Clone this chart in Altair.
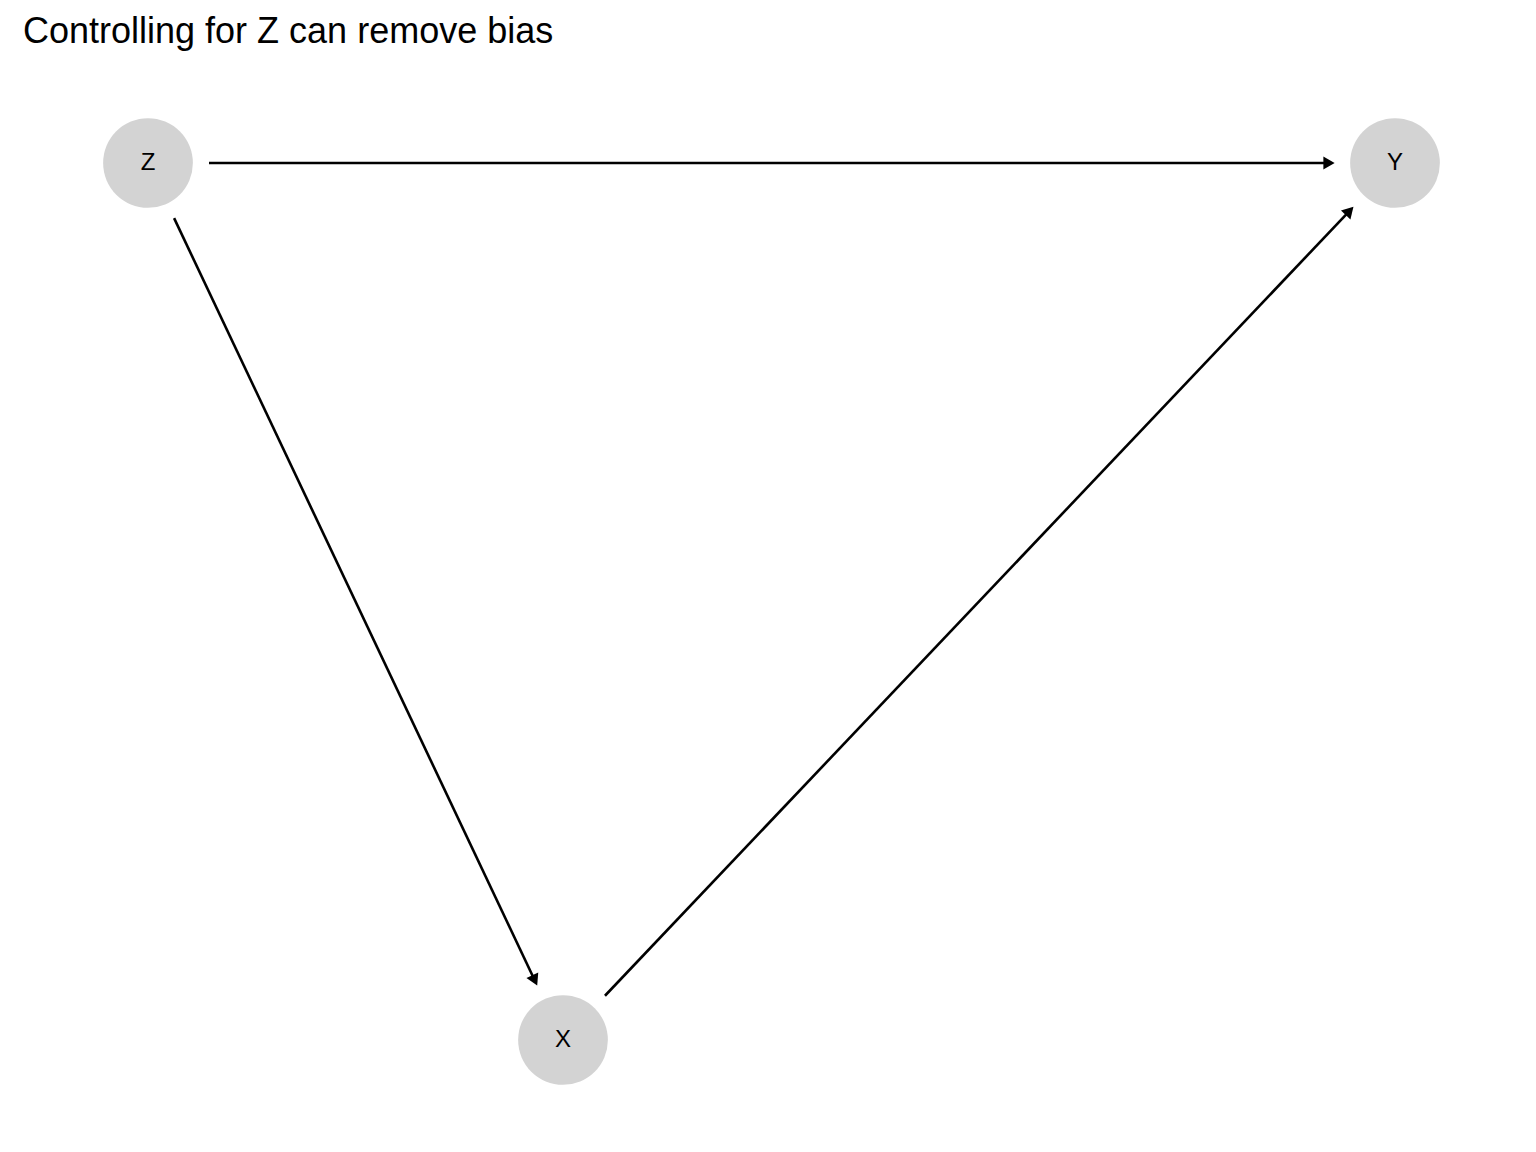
import altair as alt
import pandas as pd
import math

title_text = "Controlling for Z can remove bias"
node_names = ["Z", "Y", "X"]
node_x = [140, 1387, 555]
node_y = [155, 155, 1032]
edge_from = ["Z", "Z", "X"]
edge_to = ["Y", "X", "Y"]
start_gap = 61
end_gap = 60

W, H = 1520, 1136
pos = {n: (x, y) for n, x, y in zip(node_names, node_x, node_y)}
nodes = pd.DataFrame({"name": node_names, "x": node_x, "y": node_y})

erows, arows = [], []
for a, b in zip(edge_from, edge_to):
    (x1, y1), (x2, y2) = pos[a], pos[b]
    dx, dy = x2 - x1, y2 - y1
    L = math.hypot(dx, dy)
    ux, uy = dx / L, dy / L
    sx, sy = x1 + ux * start_gap, y1 + uy * start_gap
    ex, ey = x2 - ux * end_gap, y2 - uy * end_gap
    erows.append({"x": sx, "y": sy, "x2": ex - ux * 7, "y2": ey - uy * 7})
    ang = math.degrees(math.atan2(dx, -dy)) % 360
    arows.append({"x": ex - ux * 6, "y": ey - uy * 6, "angle": ang})
edges = pd.DataFrame(erows)
arrows = pd.DataFrame(arows)

xs = alt.Scale(domain=[0, W], nice=False, zero=False)
ys = alt.Scale(domain=[0, H], nice=False, zero=False, reverse=True)
X = lambda f="x": alt.X(f, scale=xs, axis=None)
Y = lambda f="y": alt.Y(f, scale=ys, axis=None)

circ = alt.Chart(nodes).mark_circle(size=math.pi * 45 ** 2 * (90 / 80) ** 2, color="#d3d3d3", opacity=1).encode(x=X(), y=Y())
lab = alt.Chart(nodes).mark_text(fontSize=24, font="Liberation Sans", color="black").encode(x=X(), y=Y(), text="name")
rule = alt.Chart(edges).mark_rule(strokeWidth=2.6, color="black").encode(x=X(), y=Y(), x2="x2", y2="y2")
heads = alt.Chart(arrows).mark_point(shape="triangle-up", filled=True, size=170, color="black", opacity=1).encode(
    x=X(), y=Y(), angle=alt.Angle("angle:Q", scale=None))
ttl = alt.Chart(pd.DataFrame({"t": [title_text], "x": [15], "y": [24]})).mark_text(
    fontSize=36, font="Liberation Sans", align="left", baseline="middle", color="black").encode(x=X(), y=Y(), text="t")

chart = alt.layer(rule, heads, circ, lab, ttl).properties(
    width=W, height=H, padding=0,
    autosize=alt.AutoSizeParams(type="fit", contains="padding")
).configure_view(stroke=None)
chart.save("out.html", embed_options={"renderer": "svg", "actions": False})
